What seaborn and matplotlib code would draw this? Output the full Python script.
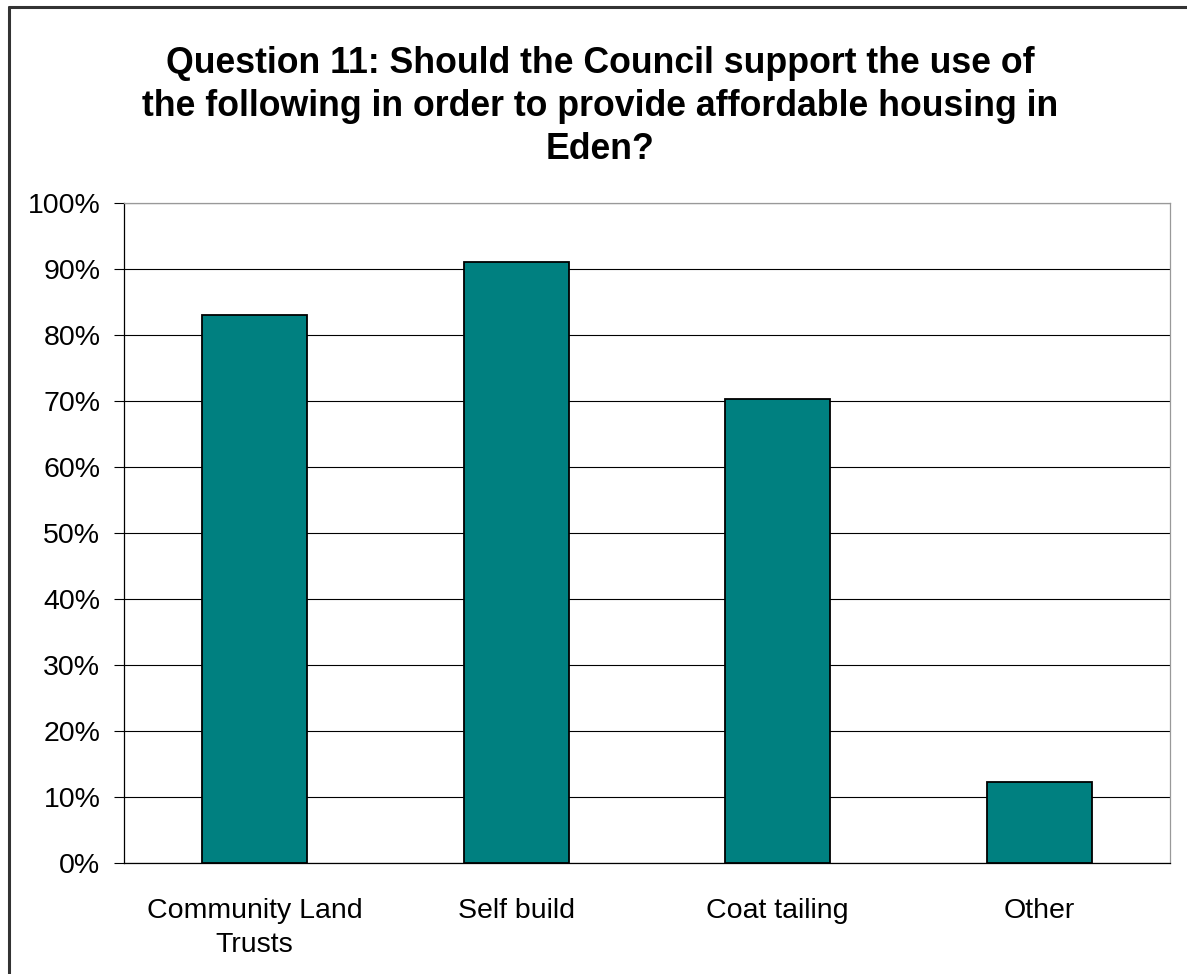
import matplotlib
matplotlib.use("Agg")
import matplotlib.pyplot as plt
import seaborn as sns
import pandas as pd
from matplotlib.ticker import FixedLocator, PercentFormatter
from matplotlib.lines import Line2D

# Survey responses (percentage answering "yes")
categories = ["Community Land\nTrusts", "Self build", "Coat tailing", "Other"]
support_pct = [83.0, 91.0, 70.3, 12.3]
y_ticks = [0, 10, 20, 30, 40, 50, 60, 70, 80, 90, 100]
title_text = ("Question 11: Should the Council support the use of\n"
              "the following in order to provide affordable housing in\n"
              "Eden?")

sns.set_theme(style="white")
plt.rcParams["font.family"] = ["Liberation Sans", "DejaVu Sans"]
plt.rcParams["text.color"] = "black"
plt.rcParams["xtick.color"] = "black"
plt.rcParams["ytick.color"] = "black"

df = pd.DataFrame({"option": categories, "pct": support_pct})

fig = plt.figure(figsize=(11.87, 9.74), dpi=100)
fig.patch.set_facecolor("white")
ax = fig.add_axes([124 / 1187, 1 - 863 / 974, (1170 - 124) / 1187, (863 - 203) / 974])

sns.barplot(data=df, x="option", y="pct", color="#008080", width=0.4,
            edgecolor="black", linewidth=1.3, saturation=1, ax=ax, zorder=3)

ax.set_xlim(-0.5, len(categories) - 0.5)
ax.set_ylim(0, 100)
ax.yaxis.set_major_locator(FixedLocator(y_ticks))
ax.yaxis.set_major_formatter(PercentFormatter(decimals=0))
ax.grid(axis="y", color="black", linewidth=0.8, zorder=0)
ax.set_axisbelow(True)

# category separators on the x axis
ax.set_xticks([i - 0.5 for i in range(len(categories) + 1)], minor=True)
ax.tick_params(axis="x", which="minor", length=7, width=0.8, color="black", direction="out")
ax.tick_params(axis="x", which="major", length=0, pad=25, labelsize=20.5, labelcolor="black")
ax.tick_params(axis="y", which="major", length=7, width=0.8, color="black",
               direction="out", pad=10, labelsize=20.5, left=True, labelcolor="black")
ax.set_xlabel("")
ax.set_ylabel("")

fig.canvas.draw()
for lbl in ax.get_xticklabels():
    lbl.set_linespacing(1.4)

for side in ("left", "bottom"):
    ax.spines[side].set_color("black")
    ax.spines[side].set_linewidth(0.9)
for side in ("top", "right"):
    ax.spines[side].set_color("#999999")
    ax.spines[side].set_linewidth(0.9)
    ax.spines[side].set_visible(True)

fig.text(600 / 1187, 1 - 46 / 974, title_text, ha="center", va="top",
         fontsize=25.7, fontweight="bold", linespacing=1.29, color="black")

# chart frame
fig.add_artist(Line2D([8.5 / 1187, 1.01], [1 - 6.5 / 974] * 2, color="#333333", lw=2.2,
                      transform=fig.transFigure))
fig.add_artist(Line2D([8.5 / 1187] * 2, [1 - 6.5 / 974, -0.01], color="#333333", lw=2.2,
                      transform=fig.transFigure))

fig.savefig("out.png", dpi=100, facecolor="white")
